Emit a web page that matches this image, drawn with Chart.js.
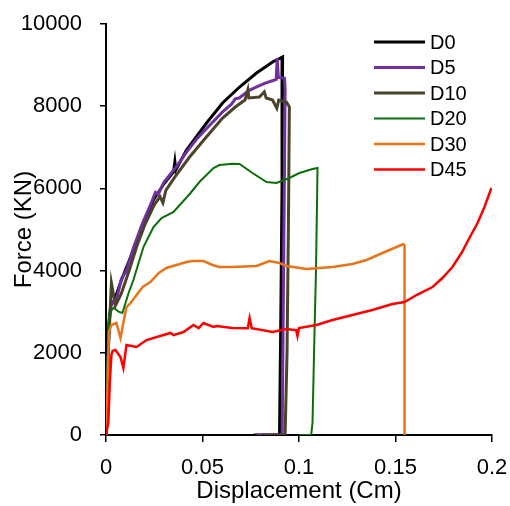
<!DOCTYPE html>
<html>
<head>
<meta charset="utf-8">
<script src="https://cdn.jsdelivr.net/npm/chart.js@4"></script>
<style>
  body { margin: 0; background: #fff; }
  canvas { display: block; }
</style>
</head>
<body>
<canvas id="forceChart" width="510" height="506"></canvas>
<script>
// series names and colours
const seriesNames = ['D0', 'D5', 'D10', 'D20', 'D30', 'D45'];
const seriesColors = ['#000000', '#7030a0', '#4a452a', '#0b6e0b', '#e8741a', '#ff0000'];
const seriesWidths = [3, 3, 3, 2, 2.5, 2.5];

// displacement (cm) / force (kN)
const d0x = [0, 0.0008, 0.0015, 0.0025, 0.0044, 0.008, 0.0142, 0.0189, 0.0246, 0.0303, 0.035, 0.0357, 0.0362, 0.0417, 0.0521, 0.0604, 0.0692, 0.078, 0.0863, 0.0915, 0.0912, 0.0905, 0.0899, 0.0765];
const d0y = [0, 1200, 2700, 3150, 3285, 3771, 4501, 5109, 5718, 6131, 6400, 6650, 6450, 6934, 7591, 8078, 8467, 8807, 9075, 9197, 6000, 2500, 0, 0];

const d5x = [0, 0.0008, 0.0015, 0.0028, 0.0049, 0.008, 0.0106, 0.0142, 0.0189, 0.0235, 0.0256, 0.027, 0.03, 0.036, 0.042, 0.047, 0.052, 0.0604, 0.065, 0.067, 0.069, 0.074, 0.078, 0.0825, 0.0862, 0.0882, 0.0887, 0.0893, 0.0925, 0.0928, 0.0922, 0.0913, 0.078];
const d5y = [0, 1200, 2700, 3250, 3200, 3800, 4000, 4550, 5150, 5650, 5900, 5850, 6150, 6500, 6900, 7200, 7450, 7860, 8050, 8180, 8200, 8380, 8470, 8560, 8620, 8650, 9170, 8700, 8680, 8400, 5000, 0, 0];

const d10x = [0, 0.001, 0.0028, 0.0049, 0.006, 0.008, 0.012, 0.016, 0.02, 0.025, 0.028, 0.0295, 0.031, 0.036, 0.0433, 0.052, 0.0604, 0.067, 0.072, 0.0735, 0.074, 0.0795, 0.082, 0.083, 0.0863, 0.0885, 0.0895, 0.0935, 0.095, 0.0945, 0.0938, 0.0928, 0.0805];
const d10y = [0, 1800, 3700, 3150, 3250, 3450, 4000, 4600, 5100, 5600, 5800, 5650, 5950, 6300, 6764, 7250, 7713, 7980, 8150, 8400, 8200, 8224, 8350, 8200, 8150, 7950, 8150, 8100, 7980, 5000, 2000, 0, 0];

const d20x = [0, 0.0008, 0.0015, 0.004, 0.0065, 0.0085, 0.0117, 0.0142, 0.0194, 0.0246, 0.0288, 0.035, 0.0438, 0.0484, 0.0557, 0.0588, 0.0655, 0.0692, 0.0759, 0.0832, 0.0883, 0.095, 0.1002, 0.107, 0.1096, 0.1098, 0.1088, 0.1078, 0.107, 0.1063, 0.1002];
const d20y = [0, 1500, 2950, 3100, 3000, 2970, 3455, 3771, 4574, 5061, 5280, 5426, 5888, 6155, 6496, 6569, 6600, 6593, 6374, 6155, 6131, 6253, 6374, 6472, 6496, 6496, 4000, 2000, 300, 0, 0];

const d30x = [0, 0.0008, 0.0015, 0.0028, 0.0054, 0.0075, 0.009, 0.0106, 0.0127, 0.019, 0.023, 0.0275, 0.0313, 0.0417, 0.0448, 0.0505, 0.0552, 0.0588, 0.0655, 0.078, 0.0847, 0.0899, 0.0935, 0.1039, 0.1174, 0.1277, 0.135, 0.1433, 0.1505, 0.1541, 0.1547, 0.1547];
const d30y = [0, 1200, 2500, 2676, 2725, 2360, 2725, 3114, 3211, 3601, 3722, 3950, 4063, 4209, 4233, 4233, 4136, 4087, 4087, 4112, 4233, 4185, 4112, 4039, 4087, 4160, 4258, 4428, 4574, 4647, 4600, 0];

const d45x = [0, 0.0012, 0.002, 0.0028, 0.0035, 0.0049, 0.0075, 0.009, 0.0106, 0.0158, 0.021, 0.0298, 0.0334, 0.035, 0.0402, 0.0453, 0.048, 0.0505, 0.0557, 0.0573, 0.0655, 0.0735, 0.0744, 0.0755, 0.0863, 0.0935, 0.0985, 0.0992, 0.1, 0.109, 0.1174, 0.1277, 0.138, 0.1484, 0.1547, 0.1609, 0.1692, 0.1743, 0.1795, 0.1842, 0.1883, 0.1925, 0.1961, 0.1997];
const d45y = [0, 300, 1300, 1950, 2050, 2068, 1898, 1630, 2190, 2141, 2311, 2433, 2482, 2430, 2506, 2676, 2600, 2725, 2628, 2650, 2603, 2600, 2847, 2600, 2506, 2579, 2550, 2409, 2600, 2676, 2798, 2920, 3041, 3187, 3236, 3406, 3601, 3820, 4087, 4428, 4793, 5158, 5547, 6010];

// axis ticks
const xTicks = [0, 0.05, 0.1, 0.15, 0.2];
const yTicks = [0, 2000, 4000, 6000, 8000, 10000];

const seriesX = [d0x, d5x, d10x, d20x, d30x, d45x];
const seriesY = [d0y, d5y, d10y, d20y, d30y, d45y];

const datasets = seriesNames.map((name, i) => ({
  label: name,
  data: seriesX[i].map((x, j) => ({ x: x, y: seriesY[i][j] })),
  borderColor: seriesColors[i],
  backgroundColor: seriesColors[i],
  borderWidth: seriesWidths[i],
  pointRadius: 0,
  tension: 0,
  fill: false,
  order: seriesNames.length - i
}));

// legend drawn inside the plot, top right
const sideLegend = {
  id: 'sideLegend',
  afterDraw(chart) {
    const ctx = chart.ctx;
    ctx.save();
    ctx.font = '20px "Liberation Sans", Arial, sans-serif';
    ctx.textBaseline = 'middle';
    ctx.fillStyle = '#000';
    chart.data.datasets.forEach((ds, i) => {
      const y = 42 + i * 25.5;
      ctx.beginPath();
      ctx.strokeStyle = ds.borderColor;
      ctx.lineWidth = ds.borderWidth;
      ctx.moveTo(374, y);
      ctx.lineTo(425, y);
      ctx.stroke();
      ctx.fillText(ds.label, 430, y + 1);
    });
    ctx.restore();
  }
};

const font = { family: '"Liberation Sans", Arial, sans-serif' };

new Chart(document.getElementById('forceChart').getContext('2d'), {
  type: 'line',
  data: { datasets: datasets },
  options: {
    responsive: false,
    animation: false,
    layout: { padding: { left: 0, right: 18, top: 24, bottom: 0 } },
    plugins: { legend: { display: false }, tooltip: { enabled: false } },
    scales: {
      x: {
        type: 'linear',
        min: 0,
        max: 0.2,
        afterBuildTicks: s => { s.ticks = xTicks.map(v => ({ value: v })); },
        afterFit: s => { s.height = 71; s.paddingLeft = 0; s.paddingRight = 0; },
        ticks: {
          color: '#000',
          font: { ...font, size: 22 },
          padding: 13,
          maxRotation: 0,
          callback: v => String(+v.toFixed(2))
        },
        grid: { drawOnChartArea: false, drawTicks: true, tickLength: 7, color: '#000', lineWidth: 1.5 },
        border: { display: true, color: '#000', width: 2 },
        title: { display: true, text: 'Displacement (Cm)', color: '#000', font: { ...font, size: 24 }, padding: { top: 0, bottom: 0 } }
      },
      y: {
        type: 'linear',
        min: 0,
        max: 10000,
        afterBuildTicks: s => { s.ticks = yTicks.map(v => ({ value: v })); },
        afterFit: s => { s.width = 106; s.paddingTop = 0; s.paddingBottom = 0; },
        ticks: {
          color: '#000',
          font: { ...font, size: 22 },
          padding: 18,
          callback: v => String(v)
        },
        grid: { drawOnChartArea: false, drawTicks: true, tickLength: 6, color: '#000', lineWidth: 1.5 },
        border: { display: true, color: '#000', width: 2 },
        title: { display: true, text: 'Force (KN)', color: '#000', font: { ...font, size: 24 }, padding: { top: 10, bottom: 0 } }
      }
    }
  },
  plugins: [sideLegend]
});
</script>
</body>
</html>
